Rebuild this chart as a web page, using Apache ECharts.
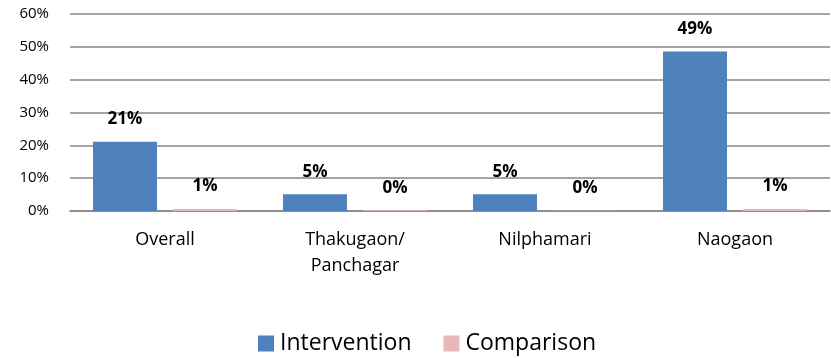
<!DOCTYPE html>
<html><head><meta charset="utf-8">
<script src="https://cdn.jsdelivr.net/npm/echarts@6/dist/echarts.min.js"></script>
<style>html,body{margin:0;padding:0;background:#fff}#c{width:831px;height:358px}</style>
</head><body><div id="c"></div>
<script>
const categories = ['Overall', 'Thakugaon/\nPanchagar', 'Nilphamari', 'Naogaon'];
const intervention = [21.1, 5.1, 5.1, 48.6];
const comparison = [0.6, 0.2, 0.1, 0.6];
const yTicks = [0, 10, 20, 30, 40, 50, 60];
const seriesNames = ['Intervention', 'Comparison'];

const FONT = 'Open Sans';
const chart = echarts.init(document.getElementById('c'), null, {renderer: 'canvas'});
const lbl = {
  show: true, position: 'top', distance: 14,
  formatter: p => Math.round(p.value) + '%',
  color: '#000', fontWeight: 'bold', fontSize: 17, fontFamily: FONT
};
chart.setOption({
  animation: false,
  grid: {left: 70, right: 1, top: 14, bottom: 147, containLabel: false},
  legend: {
    data: seriesNames, left: 253, top: 327, itemWidth: 16, itemHeight: 16, itemGap: 32,
    icon: 'rect',
    textStyle: {fontSize: 23, fontFamily: FONT, color: '#000', padding: [0, 0, 0, 1]}
  },
  xAxis: {
    type: 'category', data: categories,
    axisLine: {show: true, lineStyle: {color: '#868686', width: 1.5}},
    axisTick: {show: false},
    axisLabel: {color: '#000', fontSize: 18, fontFamily: FONT, margin: 16, lineHeight: 26, interval: 0}
  },
  yAxis: {
    type: 'value', min: yTicks[0], max: yTicks[yTicks.length - 1], interval: 10,
    axisLine: {show: false}, axisTick: {show: false},
    splitLine: {lineStyle: {color: '#868686', width: 1.5}},
    axisLabel: {formatter: v => v + '%', color: '#000', fontSize: 15, fontFamily: FONT, margin: 21}
  },
  series: [
    {name: seriesNames[0], type: 'bar', data: intervention, barWidth: 64, barGap: '25%',
     itemStyle: {color: '#4F81BD'}, label: lbl},
    {name: seriesNames[1], type: 'bar', data: comparison, barWidth: 64,
     itemStyle: {color: '#E6B9B8'}, label: lbl}
  ]
});
</script></body></html>
